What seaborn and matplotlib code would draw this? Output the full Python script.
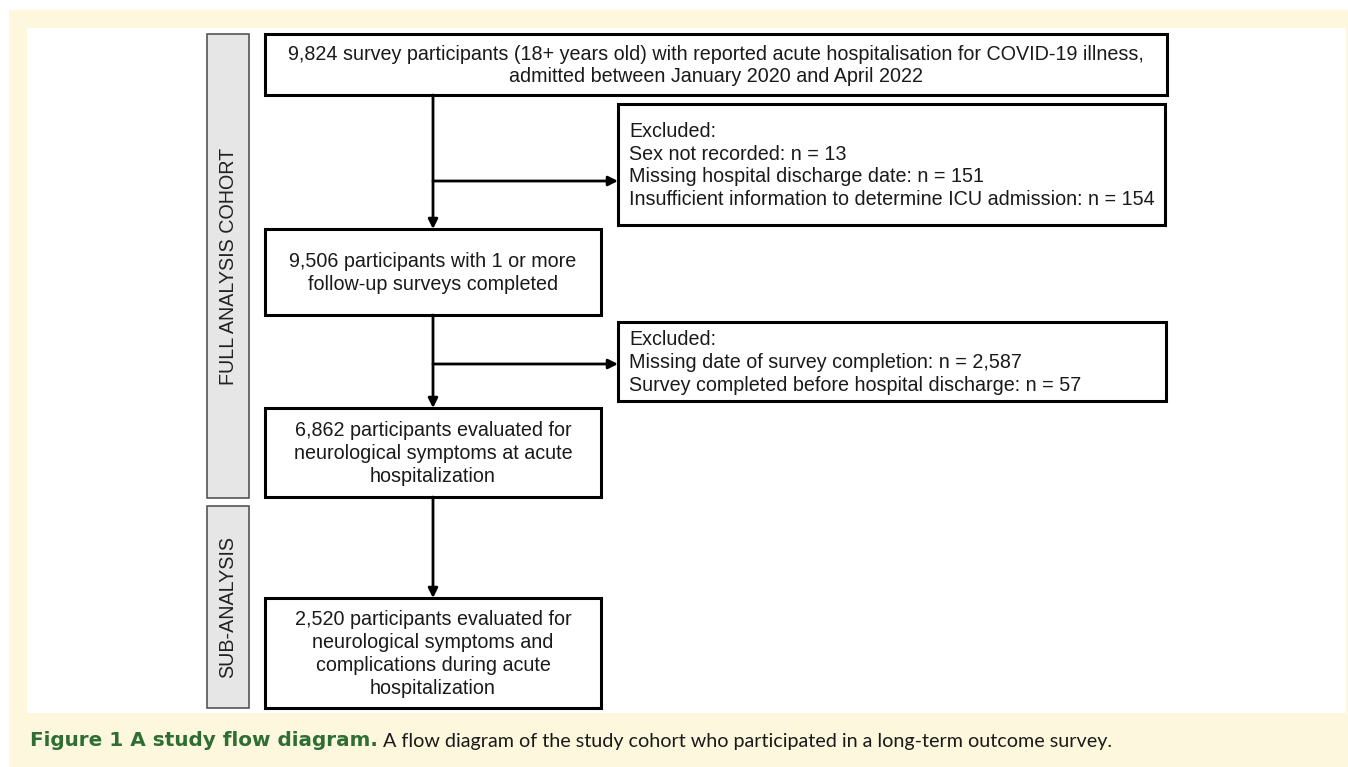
import numpy as np
import matplotlib.pyplot as plt
import seaborn as sns
from matplotlib.patches import Rectangle, FancyArrowPatch

sns.set_theme(style="white")
plt.rcParams['font.family'] = ['Liberation Sans', 'DejaVu Sans']

# flow boxes (main column) text
main_texts = [
    "9,824 survey participants (18+ years old) with reported acute hospitalisation for COVID-19 illness,\nadmitted between January 2020 and April 2022",
    "9,506 participants with 1 or more\nfollow-up surveys completed",
    "6,862 participants evaluated for\nneurological symptoms at acute\nhospitalization",
    "2,520 participants evaluated for\nneurological symptoms and\ncomplications during acute\nhospitalization",
]
excluded_texts = [
    "Excluded:\nSex not recorded: n = 13\nMissing hospital discharge date: n = 151\nInsufficient information to determine ICU admission: n = 154",
    "Excluded:\nMissing date of survey completion: n = 2,587\nSurvey completed before hospital discharge: n = 57",
]
side_labels = ["FULL ANALYSIS COHORT", "SUB-ANALYSIS"]
caption_bold = "Figure 1 A study flow diagram."
caption_rest = " A flow diagram of the study cohort who participated in a long-term outcome survey."

# layout (pixel units of the 1348x767 canvas)
main_boxes = [(265, 34, 1167, 95), (265, 229, 601, 315), (265, 408, 601, 497), (265, 598, 601, 708)]
excl_boxes = [(618, 104, 1165, 225), (618, 322, 1166, 401)]
side_boxes = [(207, 34, 249, 498), (207, 506, 249, 708)]
arrow_x = 433
branch_y = [181, 364]
fs = 14.2

fig = plt.figure(figsize=(13.48, 7.67), dpi=100)
ax = fig.add_axes([0, 0, 1, 1])
ax.set_xlim(0, 1348)
ax.set_ylim(767, 0)
ax.axis("off")

cream = "#FDF7DD"
ax.add_patch(Rectangle((9, 10), 1339, 757, facecolor=cream, edgecolor="none"))
ax.add_patch(Rectangle((27, 28), 1319, 685, facecolor="white", edgecolor="none"))

for (x0, y0, x1, y1), lab in zip(side_boxes, side_labels):
    ax.add_patch(Rectangle((x0, y0), x1 - x0, y1 - y0, facecolor="#E6E6E6",
                           edgecolor="#555555", lw=1.2))
    ax.text((x0 + x1) / 2, (y0 + y1) / 2, lab, rotation=90, ha="center", va="center",
            fontsize=fs, color="#222222")

for (x0, y0, x1, y1), txt in zip(main_boxes, main_texts):
    ax.add_patch(Rectangle((x0, y0), x1 - x0, y1 - y0, facecolor="white",
                           edgecolor="black", lw=2.2))
    ax.text((x0 + x1) / 2, (y0 + y1) / 2 + 1, txt, ha="center", va="center",
            fontsize=fs, color="#1a1a1a", linespacing=1.25)

for (x0, y0, x1, y1), txt in zip(excl_boxes, excluded_texts):
    ax.add_patch(Rectangle((x0, y0), x1 - x0, y1 - y0, facecolor="white",
                           edgecolor="black", lw=2.2))
    ax.text(x0 + 11, (y0 + y1) / 2 + 1, txt, ha="left", va="center",
            fontsize=fs, color="#1a1a1a", linespacing=1.25)

# vertical arrows between main boxes
for i in range(len(main_boxes) - 1):
    ax.add_patch(FancyArrowPatch((arrow_x, main_boxes[i][3]), (arrow_x, main_boxes[i + 1][1]),
                                 arrowstyle="-|>", mutation_scale=14, lw=2, color="black",
                                 shrinkA=0, shrinkB=0))
# branch arrows to excluded boxes
for by, eb in zip(branch_y, excl_boxes):
    ax.add_patch(FancyArrowPatch((arrow_x, by), (eb[0], by),
                                 arrowstyle="-|>", mutation_scale=14, lw=2, color="black",
                                 shrinkA=0, shrinkB=0))

t = ax.text(30, 741, caption_bold, fontsize=14.4, fontweight="bold", color="#2E6E35",
            family=["DejaVu Sans"], va="center", ha="left")
fig.canvas.draw()
bb = t.get_window_extent()
x_end = ax.transData.inverted().transform((bb.x1, bb.y0))[0]
ax.text(x_end, 741, caption_rest, fontsize=14.2, color="#1a1a1a",
        family=["Lato", "DejaVu Sans"], va="center", ha="left")

fig.savefig("out.png", dpi=100)
